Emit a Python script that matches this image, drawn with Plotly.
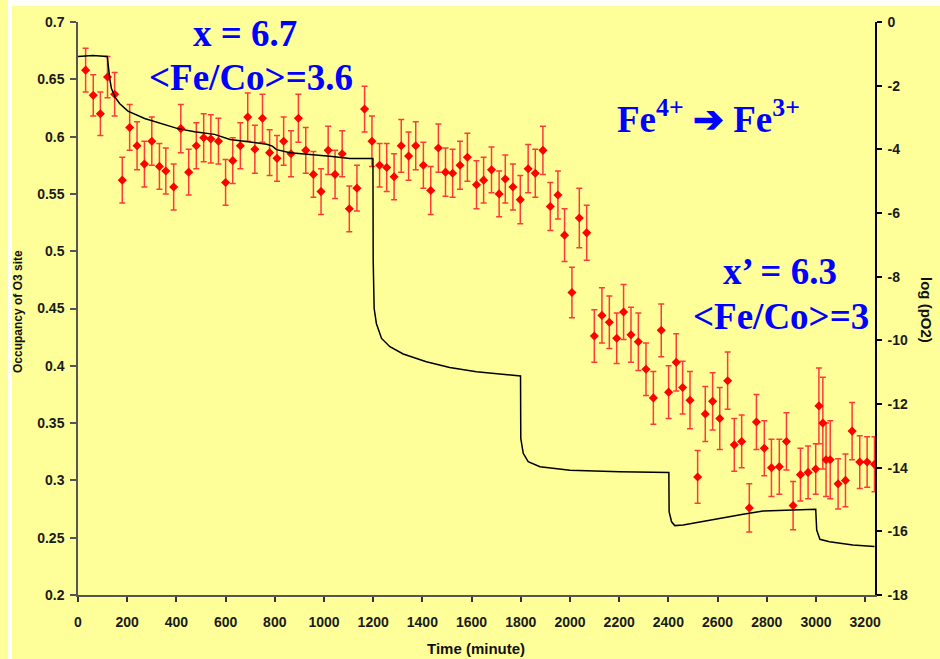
import plotly.graph_objects as go

# ---------------- data ----------------
pt_time = [31, 62, 91, 120, 149, 180, 210, 240, 270, 300, 331, 357, 389, 418, 450, 481, 511, 540, 571, 600,
           629, 660, 690, 719, 750, 779, 809, 836, 866, 896, 926, 957, 988, 1017, 1045, 1074, 1103, 1134, 1165, 1195,
           1226, 1255, 1285, 1314, 1344, 1373, 1404, 1434, 1465, 1494, 1523, 1553, 1583,
           1620, 1649, 1681, 1712, 1737, 1768, 1798, 1830, 1859, 1890, 1920, 1951, 1978, 2008, 2038, 2068, 2099,
           2130, 2160, 2190,
           2218, 2248, 2278, 2309, 2339, 2371, 2401, 2432, 2458, 2488, 2519, 2550, 2580, 2609, 2641, 2668, 2698, 2729,
           2758, 2790, 2819, 2851, 2880, 2907, 2937, 2968, 2999, 3012, 3028, 3041, 3058, 3090, 3120, 3147, 3178,
           3208, 3238]

pt_occ = [0.658, 0.636, 0.620, 0.652, 0.637, 0.562, 0.608, 0.592, 0.576, 0.596,
          0.574, 0.570, 0.556, 0.607, 0.569, 0.592, 0.599, 0.598, 0.596, 0.560,
          0.579, 0.592, 0.617, 0.589, 0.616, 0.586, 0.581, 0.596, 0.585, 0.616,
          0.588, 0.567, 0.552, 0.588, 0.567, 0.585, 0.537, 0.555, 0.624, 0.596,
          0.575, 0.573, 0.565, 0.592, 0.583, 0.592, 0.575, 0.553, 0.590, 0.569,
          0.568, 0.575, 0.582,
          0.558, 0.562, 0.571, 0.550, 0.563, 0.556, 0.545, 0.572, 0.568, 0.588,
          0.539, 0.549, 0.514, 0.464, 0.529, 0.516, 0.426, 0.444, 0.438, 0.424,
          0.447, 0.427, 0.421, 0.397, 0.372, 0.431, 0.377, 0.403, 0.381, 0.370,
          0.303, 0.358, 0.369, 0.354, 0.387, 0.331, 0.334, 0.276,
          0.351, 0.328, 0.311, 0.312, 0.334, 0.278, 0.305, 0.307, 0.310, 0.365,
          0.350, 0.318, 0.318, 0.297, 0.300, 0.343, 0.316, 0.316, 0.314]

pt_err = [0.019, 0.018, 0.019, 0.018, 0.019, 0.020, 0.020, 0.021, 0.020, 0.021,
          0.020, 0.020, 0.020, 0.021, 0.020, 0.020, 0.021, 0.021, 0.020, 0.020,
          0.020, 0.020, 0.021, 0.021, 0.021, 0.020, 0.020, 0.021, 0.020, 0.021,
          0.020, 0.020, 0.020, 0.021, 0.021, 0.020, 0.020, 0.020, 0.020, 0.022,
          0.019, 0.021, 0.020, 0.023, 0.021, 0.021, 0.020, 0.021, 0.021, 0.021,
          0.021, 0.021, 0.021,
          0.021, 0.020, 0.020, 0.020, 0.021, 0.020, 0.021, 0.021, 0.021, 0.021,
          0.021, 0.021, 0.023, 0.022, 0.026, 0.024, 0.023, 0.024, 0.023, 0.022,
          0.024, 0.024, 0.025, 0.023, 0.023, 0.023, 0.023, 0.025, 0.023, 0.025,
          0.023, 0.024, 0.025, 0.027, 0.025, 0.023, 0.023, 0.021,
          0.024, 0.024, 0.025, 0.024, 0.025, 0.021, 0.023, 0.023, 0.022, 0.033,
          0.040, 0.032, 0.034, 0.022, 0.023, 0.025, 0.023, 0.022, 0.024]

line_t = [0, 60, 119, 124, 129, 136, 150, 169, 203, 271, 339, 406, 474, 555, 618, 699, 767, 790, 807, 862,
          943, 1024, 1105, 1199, 1200, 1204, 1213, 1234, 1268, 1322, 1416, 1511, 1620, 1714, 1799,
          1800, 1810, 1830, 1878, 2000, 2202, 2402, 2403, 2413, 2426, 2460, 2542, 2623, 2704, 2785, 2880,
          2999, 3003, 3016, 3055, 3150, 3238]
line_logp = [-1.08, -1.05, -1.08, -1.50, -1.78, -2.09, -2.35, -2.56, -2.80, -3.03, -3.19, -3.35, -3.45, -3.53,
             -3.69, -3.77, -3.84, -3.90, -4.01, -4.11, -4.16, -4.22, -4.29, -4.29, -7.50, -9.00, -9.47, -9.94,
             -10.20, -10.43, -10.67, -10.85, -10.99, -11.07, -11.12,
             -13.08, -13.55, -13.81, -13.97, -14.08, -14.13, -14.15, -15.38, -15.70, -15.82, -15.80, -15.68,
             -15.56, -15.46, -15.36, -15.34, -15.31, -15.96, -16.25, -16.33, -16.43, -16.48]

x_ticks = [0, 200, 400, 600, 800, 1000, 1200, 1400, 1600, 1800, 2000, 2200, 2400, 2600, 2800, 3000, 3200]
left_ticks = [0.2, 0.25, 0.3, 0.35, 0.4, 0.45, 0.5, 0.55, 0.6, 0.65, 0.7]
left_tick_text = ["0.2", "0.25", "0.3", "0.35", "0.4", "0.45", "0.5", "0.55", "0.6", "0.65", "0.7"]
right_ticks = [0, -2, -4, -6, -8, -10, -12, -14, -16, -18]
right_tick_text = ["0", "-2", "-4", "-6", "-8", "-10", "-12", "-14", "-16", "-18"]

# ---------------- layout helpers ----------------
W, H = 940, 659
L, R, T, B = 78, 65, 22, 64
PW = W - L - R
PH = H - T - B


def px(x):
    return (x - L) / PW


def py(y):
    return (H - B - y) / PH


BG = "#FFFF99"
TICKFONT = dict(family="Liberation Sans, Arial", size=14, color="#1a1a1a", weight="bold")
BLUE = dict(family="Liberation Serif, Times New Roman", size=37, color="#0000FF", weight="bold")

fig = go.Figure()
fig.add_trace(go.Scatter(x=line_t, y=line_logp, yaxis="y2", mode="lines",
                         line=dict(color="black", width=1.5), hoverinfo="skip"))
fig.add_trace(go.Scatter(x=pt_time, y=pt_occ, mode="markers",
                         marker=dict(symbol="diamond", size=7, color="#FF0000"),
                         error_y=dict(type="data", array=pt_err, color="#FF3A3A", thickness=1.5, width=3)))

axis_common = dict(showgrid=False, zeroline=False, ticks="outside", tickfont=TICKFONT, showline=True)

fig.update_layout(
    width=W, height=H, autosize=False,
    margin=dict(l=L, r=R, t=T, b=B),
    paper_bgcolor=BG, plot_bgcolor=BG,
    showlegend=False,
    xaxis=dict(range=[0, 3240], tickvals=x_ticks, ticklen=5, tickwidth=1.5, tickcolor="#333",
               linecolor="#555", linewidth=1.5, ticklabelstandoff=8, **axis_common),
    yaxis=dict(range=[0.2, 0.7], tickvals=left_ticks, ticktext=left_tick_text, ticklen=6, tickwidth=1.5,
               tickcolor="#555", linecolor="#555", linewidth=1.5, ticklabelstandoff=3, **axis_common),
    yaxis2=dict(range=[-18, 0], overlaying="y", side="right", tickvals=right_ticks, ticktext=right_tick_text,
                ticklen=5, tickwidth=1.5, tickcolor="black", linecolor="black", linewidth=1.5,
                ticklabelstandoff=3, **axis_common),
    yaxis3=dict(range=[-18, 0], overlaying="y", side="right", tickvals=right_ticks, ticks="inside",
                ticklen=5, tickwidth=1.5, tickcolor="black", showticklabels=False, showline=False,
                showgrid=False, zeroline=False),
)

annotations = [
    dict(text="x = 6.7", x=px(245), y=py(33), font=BLUE),
    dict(text="&lt;Fe/Co&gt;=3.6", x=px(251), y=py(78), font=BLUE),
    dict(text="Fe<sup>4+</sup> ➔ Fe<sup>3+</sup>", x=px(708), y=py(116), font=BLUE),
    dict(text="x’ = 6.3", x=px(780), y=py(271), font=BLUE),
    dict(text="&lt;Fe/Co&gt;=3", x=px(781), y=py(316), font=BLUE),
    dict(text="Time (minute)", x=px(476), y=py(648),
         font=dict(family="Liberation Sans, Arial", size=15, color="#111", weight="bold")),
    dict(text="Occupancy of O3 site", x=px(18), y=py(312), textangle=-90,
         font=dict(family="Liberation Sans, Arial", size=12, color="#111", weight="bold")),
    dict(text="log (pO2)", x=px(927), y=py(310), textangle=90,
         font=dict(family="Liberation Sans, Arial", size=15, color="#111", weight="bold")),
]
for a in annotations:
    a.update(xref="paper", yref="paper", showarrow=False, xanchor="center", yanchor="middle")
fig.update_layout(annotations=annotations)

fig.update_layout(shapes=[
    dict(type="rect", xref="paper", yref="paper", x0=px(8), x1=px(12), y0=py(H), y1=py(0),
         fillcolor="white", line=dict(width=0), layer="above"),
    dict(type="rect", xref="paper", yref="paper", x0=px(12), x1=px(W), y0=py(6), y1=py(0),
         fillcolor="white", line=dict(width=0), layer="above"),
])

fig.write_html("out.html", config={"displayModeBar": False},
               post_script="document.body.style.margin='0';document.body.style.padding='0';")
